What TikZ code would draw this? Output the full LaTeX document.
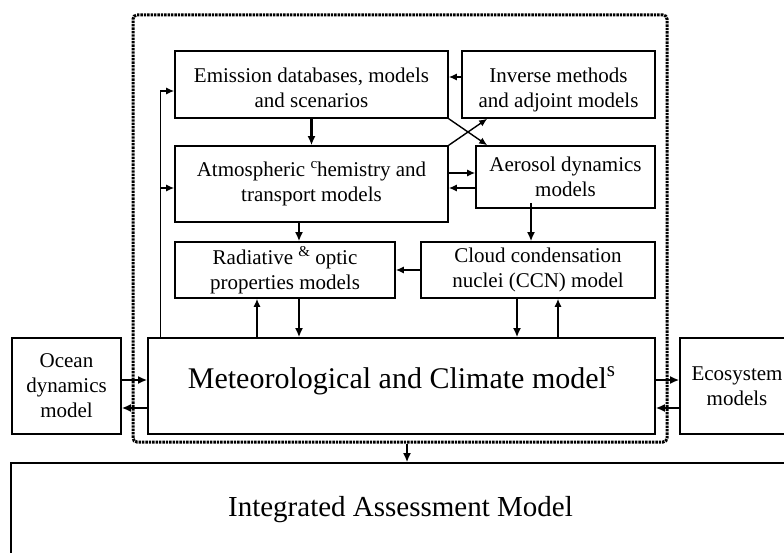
\documentclass[tikz,border=0pt]{standalone}
\usepackage{fontspec}
\setmainfont{Liberation Serif}
\usetikzlibrary{positioning,arrows.meta,calc}

% small raised glyphs as printed in the figure
\newcommand{\hi}[2][15]{\raisebox{0.4em}{\fontsize{#1}{#1}\selectfont #2}}
% move text up or down inside its box
\newcommand{\shiftv}[2]{\raisebox{#1}[\height][\depth]{#2}}

\begin{document}
\begin{tikzpicture}[x=1pt,y=-1pt,
  box/.style={draw, line width=1.6pt, align=center, inner sep=0pt, font=\fontsize{21}{25}\selectfont},
  arr/.style={-{Latex[length=9pt,width=8pt]}, line width=2.4pt},
  tarr/.style={-{Latex[length=8pt,width=7pt]}, line width=1.4pt}]
\useasboundingbox (0,0) rectangle (784,553);
\clip (0,0) rectangle (784,553);

% dotted frame round the model chain
\node[draw, line width=3pt, dash pattern=on 2.4pt off 1pt, rounded corners=4pt,
      minimum width=534pt, minimum height=427pt] (frame) at (400,228.5) {};

% Boxes
\node[box, minimum width=273pt, minimum height=67pt] (emis) at (311.5,84.5)
  {\shiftv{-6pt}{\begin{tabular}{@{}c@{}}Emission databases, models\\and scenarios\end{tabular}}};
\node[box, minimum width=193pt, minimum height=67pt] (inv) at (558.5,84.5)
  {\shiftv{-6pt}{\begin{tabular}{@{}c@{}}Inverse methods\\and adjoint models\end{tabular}}};
\node[box, minimum width=273pt, minimum height=76pt] (atmo) at (311.5,184) {Atmospheric \hi{c}hemistry and\\transport models};
\node[box, minimum width=179pt, minimum height=62pt] (aero) at (565.5,177) {Aerosol dynamics\\models};
\node[box, minimum width=220pt, minimum height=56pt] (rad) at (285,270) {Radiative \hi{\&} optic\\properties models};
\node[box, minimum width=234pt, minimum height=56pt] (ccn) at (538,270) {Cloud condensation\\nuclei (CCN) model};
\node[box, minimum width=507pt, minimum height=96pt, font=\fontsize{30}{30}\selectfont] (met) at (401.5,386)
  {\shiftv{5pt}{Meteorological and Climate model\hi[21]{s}}};
\node[box, minimum width=109pt, minimum height=96pt] (ocean) at (66.5,386) {Ocean\\dynamics\\model};
\node[box, minimum width=114pt, minimum height=96pt] (eco) at (737,386) {Ecosystem\\models};
\node[box, minimum width=779pt, minimum height=94pt, font=\fontsize{29}{29}\selectfont] (iam) at (400.5,510) {Integrated Assessment Model};

% feedback from the climate models
\coordinate (fb) at ($(met.north west)+(13,0)$);
\draw[tarr] (fb) |- ($(emis.west)+(0,6.5)$);
\draw[tarr] ($(fb |- atmo.west)+(0,4)$) -- ($(atmo.west)+(0,4)$);

% upper chain
\draw[arr] (emis) -- (atmo);
\draw[tarr] ($(inv.west)+(0,-7.5)$) -- ($(emis.east)+(0,-7.5)$);
\draw[tarr] (emis.south east) -- ($(aero.north west)+(12,0)$);
\draw[tarr] (atmo.north east) -- ($(inv.south west)+(26,0)$);
\draw[tarr] ($(atmo.east)+(0,-11)$) -- ($(aero.west)+(0,-4)$);
\draw[tarr] ($(aero.west)+(0,11)$) -- ($(atmo.east)+(0,4)$);
\draw[arr] ($(atmo.south)+(-12.5,0)$) -- ($(rad.north)+(14,0)$);
\draw[arr] ($(aero.south)+(-34.5,-6)$) -- ($(ccn.north)+(-7,0)$);
\draw[tarr] (ccn) -- (rad);

% optics / CCN <-> climate
\draw[tarr] ($(met.north)+(-144.5,0)$) -- ($(rad.south)+(-28,0)$);
\draw[arr] ($(rad.south)+(14,0)$) -- ($(met.north)+(-102.5,0)$);
\draw[arr] ($(ccn.south)+(-21,0)$) -- ($(met.north)+(115.5,0)$);
\draw[tarr] ($(met.north)+(156.5,0)$) -- ($(ccn.south)+(20,0)$);

% ocean and ecosystem coupling
\draw[arr] ($(ocean.east)+(0,-6)$) -- ($(met.west)+(0,-6)$);
\draw[arr] ($(met.west)+(0,22)$) -- ($(ocean.east)+(0,22)$);
\draw[arr] ($(met.east)+(0,-6)$) -- ($(eco.west)+(0,-6)$);
\draw[arr] ($(eco.west)+(0,22)$) -- ($(met.east)+(0,22)$);

% into the assessment model
\draw[arr] ($(frame.south)+(7,0)$) -- ($(iam.north)+(6.5,0)$);
\end{tikzpicture}
\end{document}
